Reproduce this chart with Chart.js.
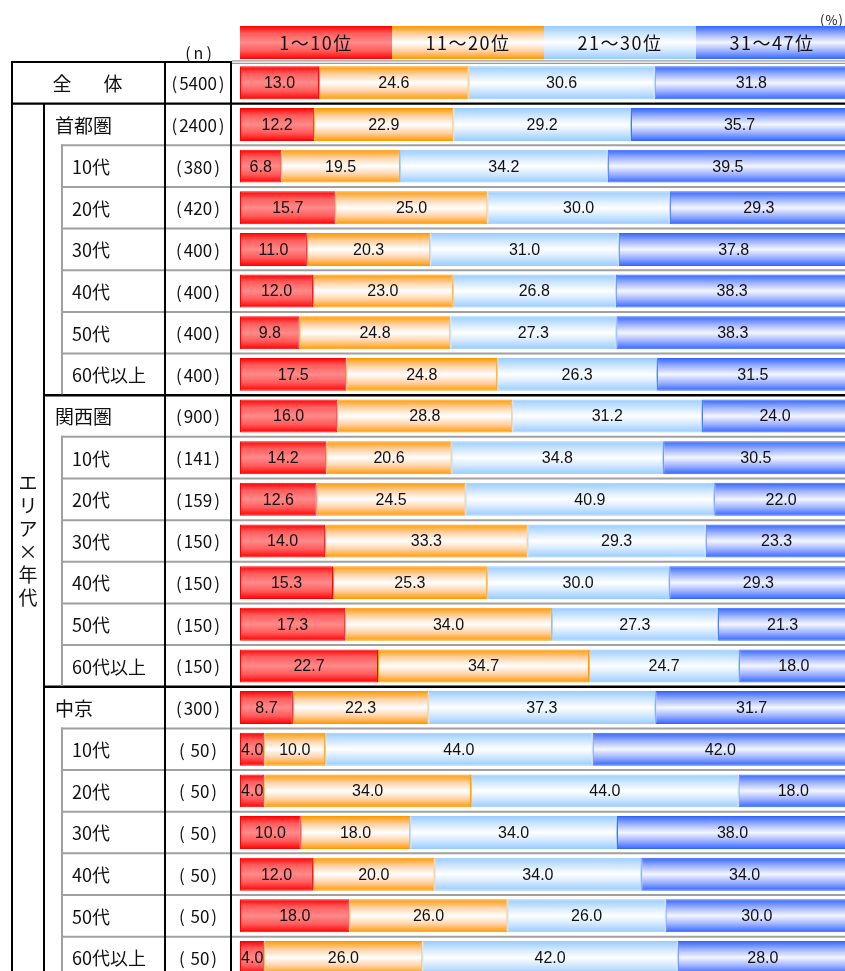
<!DOCTYPE html>
<html lang="ja">
<head>
<meta charset="utf-8">
<title>順位分布</title>
<script src="https://cdn.jsdelivr.net/npm/chart.js@4.4.1/dist/chart.umd.min.js"></script>
<style>
  html, body { margin: 0; padding: 0; background: #fff; overflow: hidden; }
  #wrap { position: absolute; left: 0; top: 0; width: 850px; height: 980px; }
</style>
</head>
<body>
<div id="wrap"><canvas id="rankChart" width="850" height="980"></canvas></div>
<script>
// ========== DATA ==========
const rowLabels = ['全体', '首都圏', '10代', '20代', '30代', '40代', '50代', '60代以上',
    '関西圏', '10代', '20代', '30代', '40代', '50代', '60代以上',
    '中京', '10代', '20代', '30代', '40代', '50代', '60代以上'];
const rowLevels = [0, 1, 2, 2, 2, 2, 2, 2, 1, 2, 2, 2, 2, 2, 2, 1, 2, 2, 2, 2, 2, 2];
const nLabels = ['(5400)', '(2400)', '(380)', '(420)', '(400)', '(400)', '(400)', '(400)',
    '(900)', '(141)', '(159)', '(150)', '(150)', '(150)', '(150)',
    '(300)', '( 50)', '( 50)', '( 50)', '( 50)', '( 50)', '( 50)'];
const seriesNames = ['1～10位', '11～20位', '21～30位', '31～47位'];
const rank1to10  = [13.0, 12.2, 6.8, 15.7, 11.0, 12.0, 9.8, 17.5, 16.0, 14.2, 12.6, 14.0, 15.3, 17.3, 22.7, 8.7, 4.0, 4.0, 10.0, 12.0, 18.0, 4.0];
const rank11to20 = [24.6, 22.9, 19.5, 25.0, 20.3, 23.0, 24.8, 24.8, 28.8, 20.6, 24.5, 33.3, 25.3, 34.0, 34.7, 22.3, 10.0, 34.0, 18.0, 20.0, 26.0, 26.0];
const rank21to30 = [30.6, 29.2, 34.2, 30.0, 31.0, 26.8, 27.3, 26.3, 31.2, 34.8, 40.9, 29.3, 30.0, 27.3, 24.7, 37.3, 44.0, 44.0, 34.0, 34.0, 26.0, 42.0];
const rank31to47 = [31.8, 35.7, 39.5, 29.3, 37.8, 38.3, 38.3, 31.5, 24.0, 30.5, 22.0, 23.3, 29.3, 21.3, 18.0, 31.7, 42.0, 18.0, 38.0, 34.0, 30.0, 28.0];
const sideLabel = 'エリア×年代';

// gradient stops per series (edge colour first)
const palettes = [
    [['#ff0000', 0], ['#ff5c5c', 0.22], ['#ff8a8a', 0.5], ['#ff5c5c', 0.75], ['#ff0000', 1]],
    [['#ff9900', 0], ['#ffd2a6', 0.25], ['#ffffff', 0.5], ['#ffd2a6', 0.75], ['#ff9900', 1]],
    [['#99ccff', 0], ['#d6eaff', 0.28], ['#ffffff', 0.5], ['#d6eaff', 0.72], ['#99ccff', 1]],
    [['#3366ff', 0], ['#9eb2ff', 0.25], ['#f4f6ff', 0.5], ['#9eb2ff', 0.75], ['#3366ff', 1]]
];
const BAR_PCT = 0.79;
const JP_FONT = "'Noto Sans CJK JP', 'Noto Sans', sans-serif";
const NUM_FONT = "'Liberation Sans', Arial, sans-serif";

function makeGradient(ctx, top, bottom, stops) {
    const g = ctx.createLinearGradient(0, top, 0, bottom);
    stops.forEach(s => g.addColorStop(s[1], s[0]));
    return g;
}

function barFill(stops) {
    return function(context) {
        const chart = context.chart;
        const y = chart.scales.y;
        if (!y || context.dataIndex === undefined || !chart.chartArea) return stops[0][0];
        const h = (y.bottom - y.top) / rowLabels.length * BAR_PCT;
        const cy = y.getPixelForValue(context.dataIndex);
        return makeGradient(chart.ctx, cy - h / 2, cy + h / 2, stops);
    };
}

// n label: parentheses sit a little apart from the number
function drawN(ctx, text, cx, cy) {
    const inner = text.slice(1, -1);
    const w = ctx.measureText(inner).width;
    ctx.textAlign = 'center';
    ctx.fillText(inner, cx, cy);
    ctx.textAlign = 'right';
    ctx.fillText('(', cx - w / 2 - 2, cy);
    ctx.textAlign = 'left';
    ctx.fillText(')', cx + w / 2 + 2, cy);
}

// ========== TABLE + LEGEND PLUGIN ==========
const tablePlugin = {
    id: 'tablePlugin',
    beforeDatasetsDraw(chart) {
        const ctx = chart.ctx;
        const area = chart.chartArea;
        const rowH = (area.bottom - area.top) / rowLabels.length;
        const rowTop = i => area.top + i * rowH;
        ctx.save();

        // horizontal rules
        ctx.lineWidth = 2;
        ctx.strokeStyle = '#000';
        ctx.beginPath(); ctx.moveTo(11, rowTop(0)); ctx.lineTo(232, rowTop(0)); ctx.stroke();
        ctx.lineWidth = 1.2;
        ctx.strokeStyle = '#9a9a9a';
        ctx.beginPath();
        ctx.moveTo(232, rowTop(0) - 1.2); ctx.lineTo(850, rowTop(0) - 1.2);
        ctx.moveTo(232, rowTop(0) + 1.4); ctx.lineTo(850, rowTop(0) + 1.4);
        ctx.stroke();

        for (let i = 1; i < rowLabels.length; i++) {
            const y = rowTop(i);
            ctx.beginPath();
            if (rowLevels[i] === 1) {
                ctx.strokeStyle = '#000';
                ctx.lineWidth = 2.4;
                ctx.moveTo(i === 1 ? 11 : 43, y);
            } else {
                ctx.strokeStyle = '#a0a0a0';
                ctx.lineWidth = 2;
                ctx.moveTo(61, y);
            }
            ctx.lineTo(850, y);
            ctx.stroke();
        }

        // vertical rules
        ctx.strokeStyle = '#000';
        ctx.lineWidth = 2;
        ctx.beginPath();
        ctx.moveTo(12, rowTop(0) - 1); ctx.lineTo(12, 980);
        ctx.moveTo(44, rowTop(1)); ctx.lineTo(44, 980);
        ctx.moveTo(165, rowTop(0) - 1); ctx.lineTo(165, 980);
        ctx.moveTo(231, rowTop(0) - 1); ctx.lineTo(231, 980);
        ctx.stroke();

        // grey inner rule beside age rows
        ctx.strokeStyle = '#a0a0a0';
        ctx.beginPath();
        let start = -1;
        for (let i = 0; i <= rowLabels.length; i++) {
            const isAge = i < rowLabels.length && rowLevels[i] === 2;
            if (isAge && start < 0) start = i;
            if (!isAge && start >= 0) {
                ctx.moveTo(62, rowTop(start) - 1);
                ctx.lineTo(62, i < rowLabels.length ? rowTop(i) - 1 : 980);
                start = -1;
            }
        }
        ctx.stroke();

        // row texts
        ctx.fillStyle = '#111';
        ctx.textBaseline = 'middle';
        rowLabels.forEach((label, i) => {
            const cy = rowTop(i) + rowH / 2 + 1;
            if (rowLevels[i] === 0) {
                ctx.font = '19px ' + JP_FONT;
                ctx.textAlign = 'center';
                const chars = label.split('');
                chars.forEach((c, k) => {
                    ctx.fillText(c, 62 + k * 51, cy);
                });
            } else if (rowLevels[i] === 1) {
                ctx.font = '19px ' + JP_FONT;
                ctx.textAlign = 'left';
                ctx.fillText(label, 55, cy);
            } else {
                ctx.font = '18px ' + JP_FONT;
                ctx.textAlign = 'left';
                ctx.fillText(label, 72, cy);
            }
            ctx.font = '17px ' + JP_FONT;
            drawN(ctx, nLabels[i], 198, cy);
        });

        // vertical side label
        ctx.font = '19px ' + JP_FONT;
        ctx.textAlign = 'center';
        const sideChars = sideLabel.split('');
        const pitch = 23;
        const midY = (rowTop(1) + area.bottom) / 2 - 1;
        sideChars.forEach((c, k) => {
            ctx.fillText(c, 28, midY + (k - (sideChars.length - 1) / 2) * pitch);
        });

        // header texts
        ctx.font = '16px ' + JP_FONT;
        ctx.letterSpacing = '3px';
        ctx.fillText('(n)', 200, 53);
        ctx.font = '13px ' + JP_FONT;
        ctx.letterSpacing = '1px';
        ctx.fillText('(%)', 832, 20);

        // legend boxes
        const legTop = 26, legBottom = 59;
        const legW = (area.right - area.left) / seriesNames.length;
        seriesNames.forEach((name, k) => {
            const x0 = area.left + k * legW;
            ctx.fillStyle = makeGradient(ctx, legTop, legBottom, palettes[k]);
            ctx.fillRect(x0, legTop, legW, legBottom - legTop);
            ctx.fillStyle = '#111';
            ctx.font = '18px ' + JP_FONT;
            ctx.letterSpacing = '1.5px';
            ctx.textAlign = 'center';
            ctx.fillText(name, x0 + legW / 2, (legTop + legBottom) / 2 + 1);
        });
        ctx.letterSpacing = '0px';
        ctx.restore();
    },
    afterDatasetsDraw(chart) {
        // value labels
        const ctx = chart.ctx;
        ctx.save();
        ctx.fillStyle = '#111';
        ctx.font = '16px ' + NUM_FONT;
        ctx.textAlign = 'center';
        ctx.textBaseline = 'middle';
        chart.data.datasets.forEach((ds, di) => {
            const meta = chart.getDatasetMeta(di);
            meta.data.forEach((bar, i) => {
                const cx = (bar.x + bar.base) / 2;
                ctx.fillText(ds.data[i].toFixed(1), cx, bar.y + 1);
            });
        });
        ctx.restore();
    }
};

// ========== CHART ==========
const seriesData = [rank1to10, rank11to20, rank21to30, rank31to47];

new Chart(document.getElementById('rankChart'), {
    type: 'bar',
    data: {
        labels: rowLabels,
        datasets: seriesData.map((values, k) => ({
            label: seriesNames[k],
            data: values,
            backgroundColor: barFill(palettes[k]),
            borderColor: palettes[k][0][0],
            borderWidth: 1,
            borderSkipped: false,
            categoryPercentage: 1,
            barPercentage: BAR_PCT
        }))
    },
    options: {
        indexAxis: 'y',
        responsive: false,
        animation: false,
        devicePixelRatio: 1,
        layout: { padding: { left: 240, right: 2, top: 62, bottom: 1.7 } },
        scales: {
            x: { stacked: true, min: 0, max: 100, display: false },
            y: { stacked: true, display: false }
        },
        plugins: {
            legend: { display: false },
            tooltip: { enabled: false }
        }
    },
    plugins: [tablePlugin]
});
</script>
</body>
</html>
